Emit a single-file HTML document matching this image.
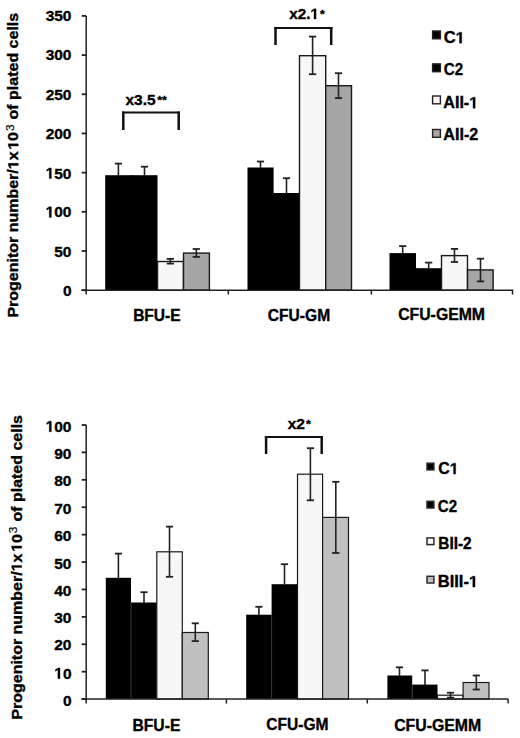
<!DOCTYPE html>
<html><head><meta charset="utf-8"><style>
html,body{margin:0;padding:0;background:#fff;width:520px;height:738px;overflow:hidden}
svg{display:block;font-family:"Liberation Sans", sans-serif;font-weight:bold}
text{fill:#000;stroke:#000;stroke-width:0.35px}
.h1{fill:none;stroke:none}
.one{fill:#000;stroke:#000;stroke-width:0.35px}
</style></head><body>
<svg width="520" height="738" viewBox="0 0 520 738">
<rect x="105.20" y="175.20" width="26.30" height="115.00" fill="#000"/>
<rect x="131.50" y="175.20" width="26.00" height="115.00" fill="#000"/>
<rect x="130.50" y="175.20" width="2.00" height="115.00" fill="#000"/>
<rect x="157.50" y="261.50" width="26.00" height="28.70" fill="#f7f7f7" stroke="#1a1a1a" stroke-width="1.4"/>
<rect x="183.50" y="253.10" width="25.90" height="37.10" fill="#a6a6a6" stroke="#1a1a1a" stroke-width="1.4"/>
<rect x="247.50" y="167.50" width="26.10" height="122.70" fill="#000"/>
<rect x="273.60" y="193.00" width="25.90" height="97.20" fill="#000"/>
<rect x="272.60" y="193.00" width="2.00" height="97.20" fill="#000"/>
<rect x="299.50" y="55.70" width="26.20" height="234.50" fill="#f7f7f7" stroke="#1a1a1a" stroke-width="1.4"/>
<rect x="325.70" y="85.70" width="25.80" height="204.50" fill="#a6a6a6" stroke="#1a1a1a" stroke-width="1.4"/>
<rect x="389.50" y="253.10" width="26.50" height="37.10" fill="#000"/>
<rect x="416.00" y="268.20" width="25.50" height="22.00" fill="#000"/>
<rect x="415.00" y="268.20" width="2.00" height="22.00" fill="#000"/>
<rect x="441.50" y="255.60" width="26.00" height="34.60" fill="#f7f7f7" stroke="#1a1a1a" stroke-width="1.4"/>
<rect x="467.50" y="269.90" width="25.60" height="20.30" fill="#a6a6a6" stroke="#1a1a1a" stroke-width="1.4"/>
<line x1="118.40" y1="163.60" x2="118.40" y2="175.60" stroke="#222" stroke-width="1.6"/>
<line x1="114.80" y1="163.60" x2="122.00" y2="163.60" stroke="#222" stroke-width="1.8"/>
<line x1="144.50" y1="166.70" x2="144.50" y2="175.60" stroke="#222" stroke-width="1.6"/>
<line x1="140.90" y1="166.70" x2="148.10" y2="166.70" stroke="#222" stroke-width="1.8"/>
<line x1="170.30" y1="258.90" x2="170.30" y2="263.60" stroke="#222" stroke-width="1.6"/>
<line x1="166.70" y1="258.90" x2="173.90" y2="258.90" stroke="#222" stroke-width="1.8"/>
<line x1="166.70" y1="263.60" x2="173.90" y2="263.60" stroke="#222" stroke-width="1.8"/>
<line x1="196.30" y1="249.00" x2="196.30" y2="256.90" stroke="#222" stroke-width="1.6"/>
<line x1="192.70" y1="249.00" x2="199.90" y2="249.00" stroke="#222" stroke-width="1.8"/>
<line x1="192.70" y1="256.90" x2="199.90" y2="256.90" stroke="#222" stroke-width="1.8"/>
<line x1="260.50" y1="161.50" x2="260.50" y2="167.90" stroke="#222" stroke-width="1.6"/>
<line x1="256.90" y1="161.50" x2="264.10" y2="161.50" stroke="#222" stroke-width="1.8"/>
<line x1="286.50" y1="178.20" x2="286.50" y2="193.40" stroke="#222" stroke-width="1.6"/>
<line x1="282.90" y1="178.20" x2="290.10" y2="178.20" stroke="#222" stroke-width="1.8"/>
<line x1="312.60" y1="36.60" x2="312.60" y2="74.20" stroke="#222" stroke-width="1.6"/>
<line x1="309.00" y1="36.60" x2="316.20" y2="36.60" stroke="#222" stroke-width="1.8"/>
<line x1="309.00" y1="74.20" x2="316.20" y2="74.20" stroke="#222" stroke-width="1.8"/>
<line x1="338.50" y1="73.20" x2="338.50" y2="98.10" stroke="#222" stroke-width="1.6"/>
<line x1="334.90" y1="73.20" x2="342.10" y2="73.20" stroke="#222" stroke-width="1.8"/>
<line x1="334.90" y1="98.10" x2="342.10" y2="98.10" stroke="#222" stroke-width="1.8"/>
<line x1="402.70" y1="246.10" x2="402.70" y2="253.50" stroke="#222" stroke-width="1.6"/>
<line x1="399.10" y1="246.10" x2="406.30" y2="246.10" stroke="#222" stroke-width="1.8"/>
<line x1="428.70" y1="262.60" x2="428.70" y2="268.60" stroke="#222" stroke-width="1.6"/>
<line x1="425.10" y1="262.60" x2="432.30" y2="262.60" stroke="#222" stroke-width="1.8"/>
<line x1="454.50" y1="248.90" x2="454.50" y2="262.00" stroke="#222" stroke-width="1.6"/>
<line x1="450.90" y1="248.90" x2="458.10" y2="248.90" stroke="#222" stroke-width="1.8"/>
<line x1="450.90" y1="262.00" x2="458.10" y2="262.00" stroke="#222" stroke-width="1.8"/>
<line x1="480.50" y1="258.70" x2="480.50" y2="281.40" stroke="#222" stroke-width="1.6"/>
<line x1="476.90" y1="258.70" x2="484.10" y2="258.70" stroke="#222" stroke-width="1.8"/>
<line x1="476.90" y1="281.40" x2="484.10" y2="281.40" stroke="#222" stroke-width="1.8"/>
<line x1="86.20" y1="15.90" x2="86.20" y2="294.50" stroke="#222" stroke-width="1.5"/>
<line x1="81.70" y1="290.20" x2="86.20" y2="290.20" stroke="#222" stroke-width="1.8"/>
<line x1="81.70" y1="251.01" x2="86.20" y2="251.01" stroke="#222" stroke-width="1.8"/>
<line x1="81.70" y1="211.83" x2="86.20" y2="211.83" stroke="#222" stroke-width="1.8"/>
<line x1="81.70" y1="172.64" x2="86.20" y2="172.64" stroke="#222" stroke-width="1.8"/>
<line x1="81.70" y1="133.46" x2="86.20" y2="133.46" stroke="#222" stroke-width="1.8"/>
<line x1="81.70" y1="94.27" x2="86.20" y2="94.27" stroke="#222" stroke-width="1.8"/>
<line x1="81.70" y1="55.09" x2="86.20" y2="55.09" stroke="#222" stroke-width="1.8"/>
<line x1="81.70" y1="15.90" x2="86.20" y2="15.90" stroke="#222" stroke-width="1.8"/>
<line x1="81.40" y1="290.20" x2="513.20" y2="290.20" stroke="#222" stroke-width="1.5"/>
<line x1="228.30" y1="290.20" x2="228.30" y2="294.60" stroke="#222" stroke-width="1.5"/>
<line x1="371.40" y1="290.20" x2="371.40" y2="294.60" stroke="#222" stroke-width="1.5"/>
<line x1="512.50" y1="290.20" x2="512.50" y2="294.60" stroke="#222" stroke-width="1.5"/>
<path d="M122.05,112.50 H179.95" stroke="#111" stroke-width="2.0" fill="none"/>
<path d="M123.30,111.50 V129.90 M178.70,111.50 V129.90" stroke="#111" stroke-width="2.5" fill="none"/>
<path d="M274.25,27.90 H332.45" stroke="#111" stroke-width="2.0" fill="none"/>
<path d="M275.50,26.90 V45.00 M331.20,26.90 V45.00" stroke="#111" stroke-width="2.5" fill="none"/>
<rect x="432.60" y="31.00" width="7.80" height="7.80" fill="#000" stroke="#222" stroke-width="1.4"/>
<rect x="432.60" y="63.90" width="7.80" height="7.80" fill="#000" stroke="#222" stroke-width="1.4"/>
<rect x="432.60" y="96.00" width="7.80" height="7.80" fill="#f7f7f7" stroke="#222" stroke-width="1.4"/>
<rect x="432.60" y="129.50" width="7.80" height="7.80" fill="#a6a6a6" stroke="#222" stroke-width="1.4"/>
<rect x="105.80" y="577.80" width="25.20" height="121.30" fill="#000"/>
<rect x="131.00" y="602.50" width="25.80" height="96.60" fill="#000"/>
<rect x="156.80" y="551.80" width="25.50" height="147.30" fill="#f7f7f7" stroke="#1a1a1a" stroke-width="1.2"/>
<rect x="182.30" y="632.50" width="26.00" height="66.60" fill="#c0c0c0" stroke="#1a1a1a" stroke-width="1.2"/>
<rect x="246.20" y="614.70" width="25.40" height="84.40" fill="#000"/>
<rect x="271.60" y="584.20" width="25.90" height="114.90" fill="#000"/>
<rect x="297.50" y="474.20" width="25.10" height="224.90" fill="#f7f7f7" stroke="#1a1a1a" stroke-width="1.2"/>
<rect x="322.60" y="517.40" width="25.90" height="181.70" fill="#c0c0c0" stroke="#1a1a1a" stroke-width="1.2"/>
<rect x="387.40" y="675.50" width="24.80" height="23.60" fill="#000"/>
<rect x="412.20" y="684.60" width="25.30" height="14.50" fill="#000"/>
<rect x="437.50" y="695.20" width="25.60" height="3.90" fill="#f7f7f7" stroke="#1a1a1a" stroke-width="1.2"/>
<rect x="463.10" y="682.50" width="25.90" height="16.60" fill="#c0c0c0" stroke="#1a1a1a" stroke-width="1.2"/>
<line x1="131.00" y1="603.10" x2="131.00" y2="699.10" stroke="#383838" stroke-width="1.0"/>
<line x1="271.60" y1="615.30" x2="271.60" y2="699.10" stroke="#383838" stroke-width="1.0"/>
<line x1="412.20" y1="685.20" x2="412.20" y2="699.10" stroke="#383838" stroke-width="1.0"/>
<line x1="118.40" y1="553.60" x2="118.40" y2="578.20" stroke="#222" stroke-width="1.6"/>
<line x1="114.80" y1="553.60" x2="122.00" y2="553.60" stroke="#222" stroke-width="1.8"/>
<line x1="144.00" y1="592.20" x2="144.00" y2="602.90" stroke="#222" stroke-width="1.6"/>
<line x1="140.40" y1="592.20" x2="147.60" y2="592.20" stroke="#222" stroke-width="1.8"/>
<line x1="169.50" y1="526.60" x2="169.50" y2="576.80" stroke="#222" stroke-width="1.6"/>
<line x1="165.90" y1="526.60" x2="173.10" y2="526.60" stroke="#222" stroke-width="1.8"/>
<line x1="165.90" y1="576.80" x2="173.10" y2="576.80" stroke="#222" stroke-width="1.8"/>
<line x1="195.30" y1="623.30" x2="195.30" y2="641.10" stroke="#222" stroke-width="1.6"/>
<line x1="191.70" y1="623.30" x2="198.90" y2="623.30" stroke="#222" stroke-width="1.8"/>
<line x1="191.70" y1="641.10" x2="198.90" y2="641.10" stroke="#222" stroke-width="1.8"/>
<line x1="258.90" y1="606.80" x2="258.90" y2="615.10" stroke="#222" stroke-width="1.6"/>
<line x1="255.30" y1="606.80" x2="262.50" y2="606.80" stroke="#222" stroke-width="1.8"/>
<line x1="284.50" y1="564.20" x2="284.50" y2="584.60" stroke="#222" stroke-width="1.6"/>
<line x1="280.90" y1="564.20" x2="288.10" y2="564.20" stroke="#222" stroke-width="1.8"/>
<line x1="310.40" y1="448.20" x2="310.40" y2="500.30" stroke="#222" stroke-width="1.6"/>
<line x1="306.80" y1="448.20" x2="314.00" y2="448.20" stroke="#222" stroke-width="1.8"/>
<line x1="306.80" y1="500.30" x2="314.00" y2="500.30" stroke="#222" stroke-width="1.8"/>
<line x1="335.80" y1="481.80" x2="335.80" y2="553.00" stroke="#222" stroke-width="1.6"/>
<line x1="332.20" y1="481.80" x2="339.40" y2="481.80" stroke="#222" stroke-width="1.8"/>
<line x1="332.20" y1="553.00" x2="339.40" y2="553.00" stroke="#222" stroke-width="1.8"/>
<line x1="399.50" y1="667.30" x2="399.50" y2="675.90" stroke="#222" stroke-width="1.6"/>
<line x1="395.90" y1="667.30" x2="403.10" y2="667.30" stroke="#222" stroke-width="1.8"/>
<line x1="425.00" y1="670.40" x2="425.00" y2="685.00" stroke="#222" stroke-width="1.6"/>
<line x1="421.40" y1="670.40" x2="428.60" y2="670.40" stroke="#222" stroke-width="1.8"/>
<line x1="450.50" y1="692.70" x2="450.50" y2="697.70" stroke="#222" stroke-width="1.6"/>
<line x1="446.90" y1="692.70" x2="454.10" y2="692.70" stroke="#222" stroke-width="1.8"/>
<line x1="446.90" y1="697.70" x2="454.10" y2="697.70" stroke="#222" stroke-width="1.8"/>
<line x1="476.30" y1="675.50" x2="476.30" y2="689.50" stroke="#222" stroke-width="1.6"/>
<line x1="472.70" y1="675.50" x2="479.90" y2="675.50" stroke="#222" stroke-width="1.8"/>
<line x1="472.70" y1="689.50" x2="479.90" y2="689.50" stroke="#222" stroke-width="1.8"/>
<line x1="86.20" y1="425.00" x2="86.20" y2="703.50" stroke="#222" stroke-width="1.5"/>
<line x1="81.70" y1="699.10" x2="86.20" y2="699.10" stroke="#222" stroke-width="1.8"/>
<line x1="81.70" y1="671.69" x2="86.20" y2="671.69" stroke="#222" stroke-width="1.8"/>
<line x1="81.70" y1="644.28" x2="86.20" y2="644.28" stroke="#222" stroke-width="1.8"/>
<line x1="81.70" y1="616.87" x2="86.20" y2="616.87" stroke="#222" stroke-width="1.8"/>
<line x1="81.70" y1="589.46" x2="86.20" y2="589.46" stroke="#222" stroke-width="1.8"/>
<line x1="81.70" y1="562.05" x2="86.20" y2="562.05" stroke="#222" stroke-width="1.8"/>
<line x1="81.70" y1="534.64" x2="86.20" y2="534.64" stroke="#222" stroke-width="1.8"/>
<line x1="81.70" y1="507.23" x2="86.20" y2="507.23" stroke="#222" stroke-width="1.8"/>
<line x1="81.70" y1="479.82" x2="86.20" y2="479.82" stroke="#222" stroke-width="1.8"/>
<line x1="81.70" y1="452.41" x2="86.20" y2="452.41" stroke="#222" stroke-width="1.8"/>
<line x1="81.70" y1="425.00" x2="86.20" y2="425.00" stroke="#222" stroke-width="1.8"/>
<line x1="81.40" y1="699.10" x2="508.10" y2="699.10" stroke="#222" stroke-width="1.5"/>
<line x1="226.40" y1="699.10" x2="226.40" y2="703.50" stroke="#222" stroke-width="1.5"/>
<line x1="367.30" y1="699.10" x2="367.30" y2="703.50" stroke="#222" stroke-width="1.5"/>
<line x1="508.10" y1="699.10" x2="508.10" y2="703.50" stroke="#222" stroke-width="1.5"/>
<path d="M264.85,436.90 H322.95" stroke="#111" stroke-width="2.0" fill="none"/>
<path d="M266.10,435.90 V454.10 M321.70,435.90 V454.10" stroke="#111" stroke-width="2.5" fill="none"/>
<rect x="427.00" y="463.20" width="6.90" height="6.70" fill="#000" stroke="#2a2a2a" stroke-width="1.5"/>
<rect x="427.00" y="501.30" width="6.90" height="6.70" fill="#000" stroke="#2a2a2a" stroke-width="1.5"/>
<rect x="427.00" y="537.90" width="6.90" height="6.70" fill="#f7f7f7" stroke="#2a2a2a" stroke-width="1.5"/>
<rect x="427.00" y="576.30" width="6.90" height="6.70" fill="#c0c0c0" stroke="#2a2a2a" stroke-width="1.5"/>
<text id="c1_bfue" x="156.90" y="320.50" font-size="15.80" text-anchor="middle" textLength="47.50" lengthAdjust="spacingAndGlyphs">BFU-E</text>
<text id="c1_cfugm" x="299.00" y="320.70" font-size="15.80" text-anchor="middle" textLength="62.30" lengthAdjust="spacingAndGlyphs">CFU-GM</text>
<text id="c1_cfugemm" x="441.60" y="320.10" font-size="15.80" text-anchor="middle" textLength="86.90" lengthAdjust="spacingAndGlyphs">CFU-GEMM</text>
<text id="c2_bfue" x="156.40" y="730.50" font-size="15.80" text-anchor="middle" textLength="47.90" lengthAdjust="spacingAndGlyphs">BFU-E</text>
<text id="c2_cfugm" x="297.40" y="730.20" font-size="15.80" text-anchor="middle" textLength="62.30" lengthAdjust="spacingAndGlyphs">CFU-GM</text>
<text id="c2_cfugemm" x="437.70" y="730.80" font-size="15.80" text-anchor="middle" textLength="87.10" lengthAdjust="spacingAndGlyphs">CFU-GEMM</text>
<text id="x35" x="125.50" y="104.70" font-size="14.80" text-anchor="start" textLength="41.30" lengthAdjust="spacingAndGlyphs">x3.5<tspan dx="1.5" font-size="0.8em" dy="-0.6">**</tspan></text>
<text id="x21" x="289.20" y="19.00" font-size="14.80" text-anchor="start" textLength="35.50" lengthAdjust="spacingAndGlyphs">x2.<tspan class="h1">1</tspan><tspan dx="1" font-size="0.8em" dy="-0.6">*</tspan></text>
<path class="one" d="M313.99,19.00 L313.99,10.54 L311.47,12.07 L311.47,10.47 L314.10,8.82 L316.08,8.82 L316.08,19.00Z"/>
<text id="x2" x="287.70" y="428.90" font-size="14.80" text-anchor="start" textLength="23.10" lengthAdjust="spacingAndGlyphs">x2<tspan dx="1" font-size="0.8em" dy="-0.6">*</tspan></text>
<text id="l1_c1" x="443.70" y="43.20" font-size="16.00" text-anchor="start" textLength="21.10" lengthAdjust="spacingAndGlyphs">C<tspan class="h1">1</tspan></text>
<path class="one" d="M459.47,43.20 L459.47,34.06 L456.75,35.71 L456.75,33.98 L459.59,32.19 L461.74,32.19 L461.74,43.20Z"/>
<text id="l1_c2" x="443.80" y="75.40" font-size="16.00" text-anchor="start" textLength="19.30" lengthAdjust="spacingAndGlyphs">C2</text>
<text id="l1_a1" x="443.30" y="108.20" font-size="16.00" text-anchor="start" textLength="34.90" lengthAdjust="spacingAndGlyphs">AII-<tspan class="h1">1</tspan></text>
<path class="one" d="M473.00,108.20 L473.00,99.06 L470.34,100.71 L470.34,98.98 L473.12,97.19 L475.21,97.19 L475.21,108.20Z"/>
<text id="l1_a2" x="443.30" y="139.80" font-size="16.00" text-anchor="start" textLength="34.90" lengthAdjust="spacingAndGlyphs">AII-2</text>
<text id="l2_c1" x="438.30" y="474.10" font-size="15.90" text-anchor="start" textLength="20.30" lengthAdjust="spacingAndGlyphs">C<tspan class="h1">1</tspan></text>
<path class="one" d="M453.47,474.10 L453.47,465.02 L450.85,466.65 L450.85,464.94 L453.59,463.16 L455.65,463.16 L455.65,474.10Z"/>
<text id="l2_c2" x="437.80" y="511.60" font-size="15.90" text-anchor="start" textLength="19.30" lengthAdjust="spacingAndGlyphs">C2</text>
<text id="l2_b2" x="438.30" y="549.10" font-size="15.90" text-anchor="start" textLength="33.30" lengthAdjust="spacingAndGlyphs">BII-2</text>
<text id="l2_b31" x="437.80" y="587.10" font-size="15.90" text-anchor="start" textLength="40.30" lengthAdjust="spacingAndGlyphs">BIII-<tspan class="h1">1</tspan></text>
<path class="one" d="M472.78,587.10 L472.78,578.02 L470.06,579.65 L470.06,577.94 L472.90,576.16 L475.04,576.16 L475.04,587.10Z"/>
<text id="y1_0" x="71.50" y="296.40" font-size="15.50" text-anchor="end">0</text>
<text id="y1_50" x="71.50" y="256.70" font-size="15.50" text-anchor="end">50</text>
<text id="y1_100" x="71.50" y="217.40" font-size="15.50" text-anchor="end"><tspan class="h1">1</tspan>00</text>
<path class="one" d="M49.24,217.40 L49.24,208.55 L46.69,210.14 L46.69,208.47 L49.36,206.74 L51.37,206.74 L51.37,217.40Z"/>
<text id="y1_150" x="71.50" y="178.60" font-size="15.50" text-anchor="end"><tspan class="h1">1</tspan>50</text>
<path class="one" d="M49.24,178.60 L49.24,169.75 L46.69,171.34 L46.69,169.67 L49.36,167.94 L51.37,167.94 L51.37,178.60Z"/>
<text id="y1_200" x="71.50" y="138.80" font-size="15.50" text-anchor="end">200</text>
<text id="y1_250" x="71.50" y="99.50" font-size="15.50" text-anchor="end">250</text>
<text id="y1_300" x="71.50" y="60.20" font-size="15.50" text-anchor="end">300</text>
<text id="y1_350" x="71.50" y="20.90" font-size="15.50" text-anchor="end">350</text>
<text id="y2_0" x="71.50" y="706.00" font-size="15.50" text-anchor="end">0</text>
<text id="y2_10" x="71.50" y="678.63" font-size="15.50" text-anchor="end"><tspan class="h1">1</tspan>0</text>
<path class="one" d="M57.87,678.63 L57.87,669.78 L55.31,671.37 L55.31,669.70 L57.98,667.97 L60.00,667.97 L60.00,678.63Z"/>
<text id="y2_20" x="71.50" y="650.26" font-size="15.50" text-anchor="end">20</text>
<text id="y2_30" x="71.50" y="623.39" font-size="15.50" text-anchor="end">30</text>
<text id="y2_40" x="71.50" y="595.52" font-size="15.50" text-anchor="end">40</text>
<text id="y2_50" x="71.50" y="568.65" font-size="15.50" text-anchor="end">50</text>
<text id="y2_60" x="71.50" y="540.78" font-size="15.50" text-anchor="end">60</text>
<text id="y2_70" x="71.50" y="513.91" font-size="15.50" text-anchor="end">70</text>
<text id="y2_80" x="71.50" y="486.04" font-size="15.50" text-anchor="end">80</text>
<text id="y2_90" x="71.50" y="459.17" font-size="15.50" text-anchor="end">90</text>
<text id="y2_100" x="71.50" y="431.80" font-size="15.50" text-anchor="end"><tspan class="h1">1</tspan>00</text>
<path class="one" d="M49.24,431.80 L49.24,422.95 L46.69,424.54 L46.69,422.87 L49.36,421.14 L51.37,421.14 L51.37,431.80Z"/>
<text id="title1" transform="translate(18.30,317.60) rotate(-90)" font-size="14.50" textLength="304.80" lengthAdjust="spacingAndGlyphs">Progenitor number/<tspan class="h1">1</tspan>x<tspan dx="1.5"><tspan class="h1">1</tspan>0</tspan><tspan font-size="10.73" font-weight="normal" style="stroke-width:0.2px" dx="0.8" dy="-4.40">3</tspan><tspan dx="0.6" dy="4.40"> of plated cells</tspan></text>
<g transform="translate(18.30,317.60) rotate(-90)"><path class="one" d="M152.08,0.00 L152.08,-8.28 L149.43,-6.79 L149.43,-8.35 L152.19,-9.98 L154.27,-9.98 L154.27,0.00Z M171.54,0.00 L171.54,-8.28 L168.90,-6.79 L168.90,-8.35 L171.66,-9.98 L173.74,-9.98 L173.74,0.00Z"/></g>
<text id="title2" transform="translate(21.70,719.60) rotate(-90)" font-size="14.50" textLength="304.60" lengthAdjust="spacingAndGlyphs">Progenitor number/<tspan class="h1">1</tspan>x<tspan dx="1.5"><tspan class="h1">1</tspan>0</tspan><tspan font-size="10.73" font-weight="normal" style="stroke-width:0.2px" dx="0.8" dy="-4.40">3</tspan><tspan dx="0.6" dy="4.40"> of plated cells</tspan></text>
<g transform="translate(21.70,719.60) rotate(-90)"><path class="one" d="M151.98,0.00 L151.98,-8.28 L149.33,-6.79 L149.33,-8.35 L152.09,-9.98 L154.17,-9.98 L154.17,0.00Z M171.43,0.00 L171.43,-8.28 L168.79,-6.79 L168.79,-8.35 L171.55,-9.98 L173.62,-9.98 L173.62,0.00Z"/></g>
</svg>
</body></html>
